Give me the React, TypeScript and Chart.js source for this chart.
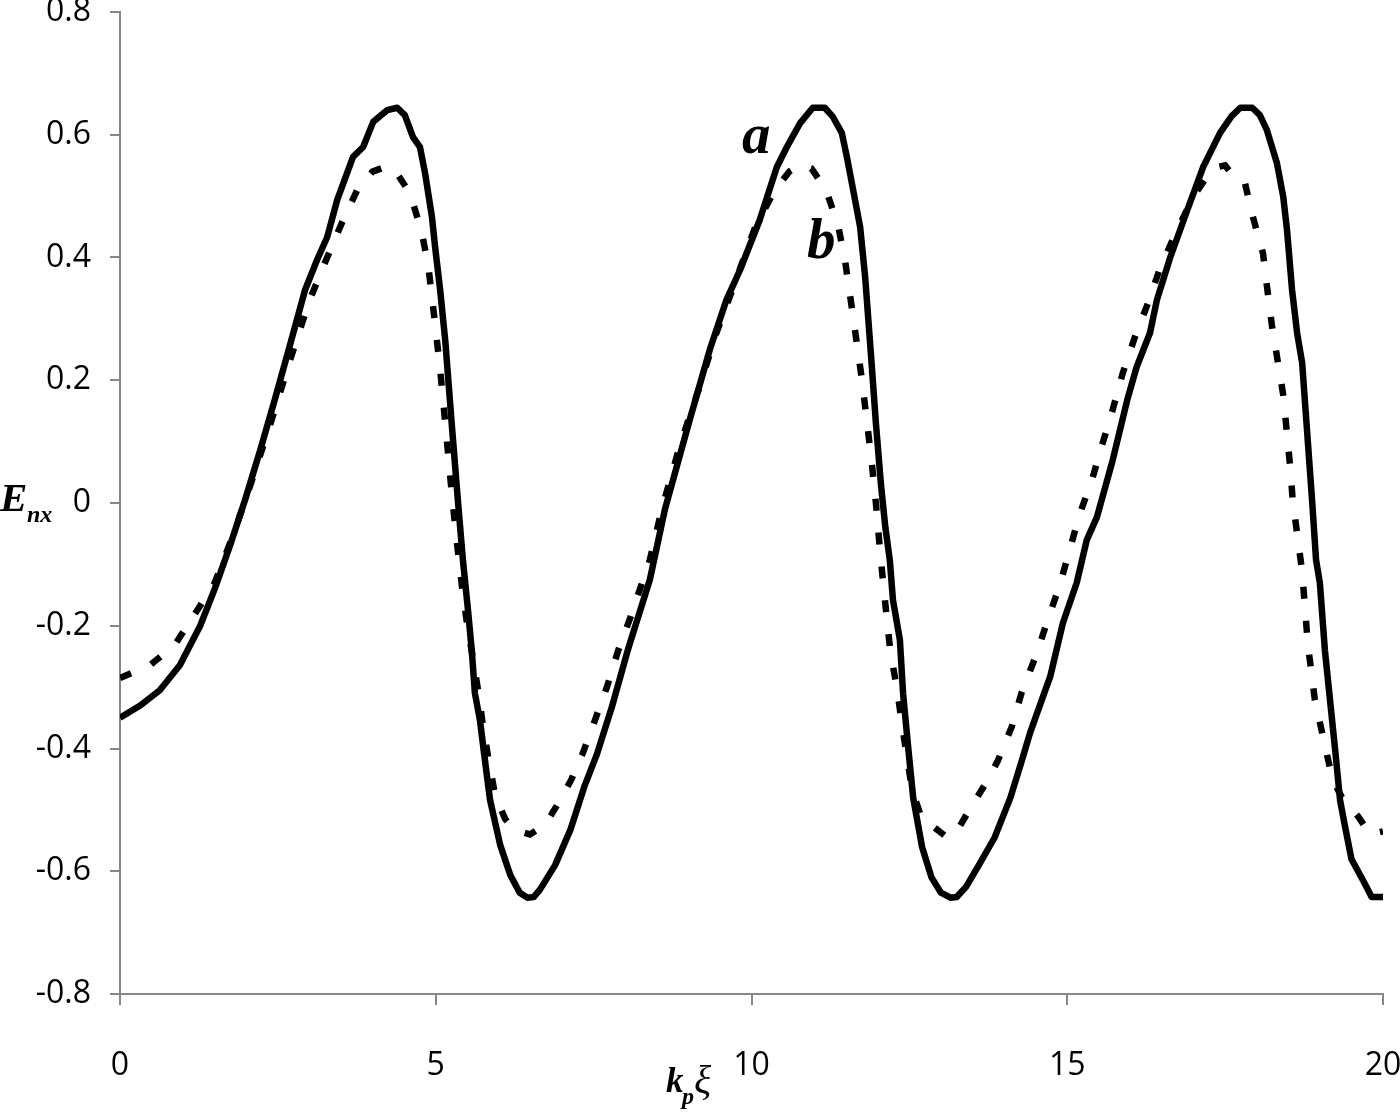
import React, { useEffect, useRef } from "react";
import { Chart, registerables } from "chart.js";

Chart.register(...registerables);

// Tick values
const xTicks = [0, 5, 10, 15, 20];
const yTicks = [-0.8, -0.6, -0.4, -0.2, 0, 0.2, 0.4, 0.6, 0.8];

// Curve a (solid): [k_p xi, E_nx]
const seriesA: [number, number][] = [
  [0, -0.35], [0.32, -0.33], [0.63, -0.305], [0.95, -0.264], [1.27, -0.2], [1.5, -0.14],
  [1.74, -0.07], [1.98, 0.005], [2.22, 0.086], [2.45, 0.168], [2.69, 0.257], [2.93, 0.347],
  [3.12, 0.396], [3.28, 0.433], [3.44, 0.494], [3.69, 0.564], [3.85, 0.58], [4.01, 0.621],
  [4.23, 0.64], [4.39, 0.644], [4.51, 0.632], [4.64, 0.596], [4.75, 0.58], [4.83, 0.538],
  [4.94, 0.466], [4.99, 0.417], [5.07, 0.347], [5.15, 0.265], [5.26, 0.12], [5.35, 0.005],
  [5.43, -0.093], [5.51, -0.174], [5.57, -0.24], [5.62, -0.31], [5.7, -0.354], [5.78, -0.42],
  [5.86, -0.484], [6.02, -0.557], [6.18, -0.606], [6.33, -0.635], [6.45, -0.643], [6.55, -0.642],
  [6.65, -0.63], [6.89, -0.59], [7.13, -0.533], [7.36, -0.46], [7.55, -0.41], [7.79, -0.332],
  [8.04, -0.24], [8.39, -0.125], [8.63, -0.01], [9.02, 0.135], [9.34, 0.25], [9.6, 0.33],
  [9.82, 0.38], [10.13, 0.461], [10.4, 0.547], [10.56, 0.58], [10.77, 0.619], [10.97, 0.644],
  [11.16, 0.644], [11.29, 0.629], [11.43, 0.603], [11.51, 0.564], [11.61, 0.51], [11.72, 0.45],
  [11.8, 0.368], [11.9, 0.23], [11.97, 0.13], [12.05, 0.03], [12.12, -0.04], [12.19, -0.093],
  [12.24, -0.158], [12.35, -0.223], [12.4, -0.31], [12.48, -0.397], [12.56, -0.48], [12.7, -0.56],
  [12.85, -0.61], [13.0, -0.635], [13.15, -0.643], [13.25, -0.642], [13.4, -0.625], [13.6, -0.59],
  [13.85, -0.545], [14.1, -0.48], [14.28, -0.42], [14.41, -0.375], [14.6, -0.32], [14.73, -0.283],
  [14.93, -0.196], [15.15, -0.13], [15.31, -0.06], [15.47, -0.023], [15.72, 0.07], [15.95, 0.168],
  [16.1, 0.222], [16.31, 0.277], [16.42, 0.331], [16.63, 0.4], [16.9, 0.477], [17.15, 0.547],
  [17.42, 0.603], [17.6, 0.63], [17.74, 0.644], [17.93, 0.644], [18.05, 0.632], [18.16, 0.608],
  [18.32, 0.554], [18.42, 0.499], [18.48, 0.445], [18.56, 0.347], [18.64, 0.277], [18.72, 0.228],
  [18.88, 0.0], [18.94, -0.093], [19.0, -0.13], [19.08, -0.24], [19.16, -0.32], [19.24, -0.4],
  [19.32, -0.484], [19.38, -0.517], [19.5, -0.58], [19.71, -0.62], [19.82, -0.642], [20, -0.642],
];

// Curve b (dashed)
const seriesB: [number, number][] = [
  [0, -0.285], [0.48, -0.264], [0.87, -0.231], [1.19, -0.18], [1.5, -0.13], [1.8, -0.05],
  [2.1, 0.04], [2.4, 0.135], [2.7, 0.235], [3.0, 0.33], [3.28, 0.4], [3.52, 0.458],
  [3.77, 0.513], [4.0, 0.54], [4.24, 0.549], [4.4, 0.535], [4.59, 0.505], [4.77, 0.445],
  [4.88, 0.388], [4.98, 0.3], [5.07, 0.217], [5.16, 0.12], [5.25, 0.02], [5.33, -0.06],
  [5.42, -0.14], [5.5, -0.2], [5.6, -0.26], [5.67, -0.305], [5.75, -0.365], [5.83, -0.414],
  [5.94, -0.476], [6.1, -0.515], [6.25, -0.533], [6.49, -0.54], [6.73, -0.525], [6.97, -0.484],
  [7.15, -0.45], [7.32, -0.41], [7.51, -0.357], [7.71, -0.3], [7.89, -0.24], [8.08, -0.187],
  [8.39, -0.093], [8.58, -0.01], [8.87, 0.095], [9.18, 0.19], [9.42, 0.27], [9.74, 0.36],
  [10.06, 0.45], [10.37, 0.51], [10.6, 0.54], [10.77, 0.551], [10.95, 0.545], [11.18, 0.51],
  [11.37, 0.453], [11.48, 0.396], [11.6, 0.31], [11.75, 0.2], [11.9, 0.07], [11.97, 0.0],
  [12.02, -0.06], [12.08, -0.125], [12.14, -0.185], [12.2, -0.243], [12.3, -0.3], [12.38, -0.358],
  [12.46, -0.414], [12.55, -0.47], [12.7, -0.515], [12.85, -0.525], [13.1, -0.545], [13.25, -0.535],
  [13.45, -0.5], [13.6, -0.475], [13.75, -0.45], [13.9, -0.42], [14.12, -0.365], [14.28, -0.308],
  [14.5, -0.25], [14.68, -0.194], [14.87, -0.137], [15.03, -0.08], [15.19, -0.02], [15.39, 0.037],
  [15.55, 0.094], [15.72, 0.152], [15.88, 0.212], [16.07, 0.27], [16.28, 0.326], [16.47, 0.383],
  [16.74, 0.445], [17.0, 0.5], [17.31, 0.546], [17.5, 0.55], [17.65, 0.53], [17.81, 0.523],
  [17.94, 0.466], [18.1, 0.407], [18.16, 0.355], [18.24, 0.29], [18.42, 0.176], [18.53, 0.059],
  [18.57, 0.005], [18.72, -0.112], [18.81, -0.23], [18.92, -0.32], [19.08, -0.395], [19.2, -0.45],
  [19.35, -0.48], [19.6, -0.51], [19.8, -0.54], [20, -0.535],
];

// Curve labels placed in data coordinates
const curveLabels = ["a", "b"];
const curveLabelX = [9.85, 10.88];
const curveLabelY = [0.57, 0.4];

const AXIS_COLOR = "#868686";
const TICK_FONT = { family: '"Open Sans", sans-serif', size: 32 };
const SERIF = '"Liberation Serif", "DejaVu Serif", serif';

const textPlugin = {
  id: "textPlugin",
  afterDraw(chart: any) {
    const ctx = chart.ctx;
    const xs = chart.scales.x;
    const ys = chart.scales.y;
    ctx.save();
    ctx.fillStyle = "#000";
    ctx.textAlign = "left";
    ctx.textBaseline = "alphabetic";
    // y-axis title E_nx
    ctx.font = `italic bold 41px ${SERIF}`;
    ctx.fillText("E", 0, 511);
    ctx.font = `italic bold 24px ${SERIF}`;
    ctx.fillText("nx", 27, 522);
    // x-axis title k_p ξ
    ctx.font = `italic bold 35px ${SERIF}`;
    ctx.fillText("k", 666, 1092);
    ctx.font = `italic bold 24px ${SERIF}`;
    ctx.fillText("p", 682, 1104);
    ctx.font = `italic 40px ${SERIF}`;
    ctx.fillText("ξ", 694, 1093);
    // curve labels
    ctx.font = `italic bold 57px ${SERIF}`;
    curveLabels.forEach((t, i) => {
      ctx.fillText(t, xs.getPixelForValue(curveLabelX[i]), ys.getPixelForValue(curveLabelY[i]));
    });
    ctx.restore();
  },
};

export default function App() {
  const canvasRef = useRef<HTMLCanvasElement | null>(null);

  useEffect(() => {
    const canvas = canvasRef.current;
    if (!canvas) return;
    const chart = new Chart(canvas, {
      type: "line",
      data: {
        datasets: [
          {
            label: "b",
            data: seriesB.map(([x, y]) => ({ x, y })),
            borderColor: "#000",
            borderWidth: 6.5,
            borderDash: [12, 22],
            borderCapStyle: "butt",
            pointRadius: 0,
            fill: false,
            tension: 0,
          },
          {
            label: "a",
            data: seriesA.map(([x, y]) => ({ x, y })),
            borderColor: "#000",
            borderWidth: 6.5,
            borderJoinStyle: "round",
            borderCapStyle: "butt",
            pointRadius: 0,
            fill: false,
            tension: 0,
          },
        ],
      },
      options: {
        animation: false,
        responsive: false,
        devicePixelRatio: 1,
        layout: { padding: { top: 12, right: 17, left: 0, bottom: 0 } },
        plugins: {
          legend: { display: false },
          tooltip: { enabled: false },
        },
        scales: {
          x: {
            type: "linear",
            min: 0,
            max: 20,
            afterBuildTicks: (s: any) => {
              s.ticks = xTicks.map((v) => ({ value: v }));
            },
            afterFit: (s: any) => {
              s.height = 118;
              s.paddingLeft = 0;
              s.paddingRight = 0;
            },
            ticks: {
              color: "#000",
              font: TICK_FONT,
              padding: 42,
              maxRotation: 0,
              callback: (v: any) => String(v),
            },
            grid: {
              display: true,
              drawOnChartArea: false,
              drawTicks: true,
              tickLength: 11,
              color: AXIS_COLOR,
              lineWidth: 2,
            },
            border: { display: true, color: AXIS_COLOR, width: 2 },
          },
          y: {
            type: "linear",
            min: -0.8,
            max: 0.8,
            afterBuildTicks: (s: any) => {
              s.ticks = yTicks.map((v) => ({ value: v }));
            },
            afterFit: (s: any) => {
              s.width = 120;
              s.paddingTop = 0;
              s.paddingBottom = 0;
            },
            ticks: {
              color: "#000",
              font: TICK_FONT,
              padding: 19,
              callback: (v: any) => (Math.abs(v) < 1e-9 ? "0" : Number(v).toFixed(1)),
            },
            grid: {
              display: true,
              drawOnChartArea: false,
              drawTicks: true,
              tickLength: 10,
              color: AXIS_COLOR,
              lineWidth: 2,
            },
            border: { display: true, color: AXIS_COLOR, width: 2 },
          },
        },
      } as any,
      plugins: [textPlugin],
    });
    return () => chart.destroy();
  }, []);

  return (
    <div style={{ position: "absolute", left: 0, top: 0, width: 1400, height: 1112, background: "#fff" }}>
      <canvas ref={canvasRef} width={1400} height={1112} style={{ display: "block", width: 1400, height: 1112 }} />
    </div>
  );
}
